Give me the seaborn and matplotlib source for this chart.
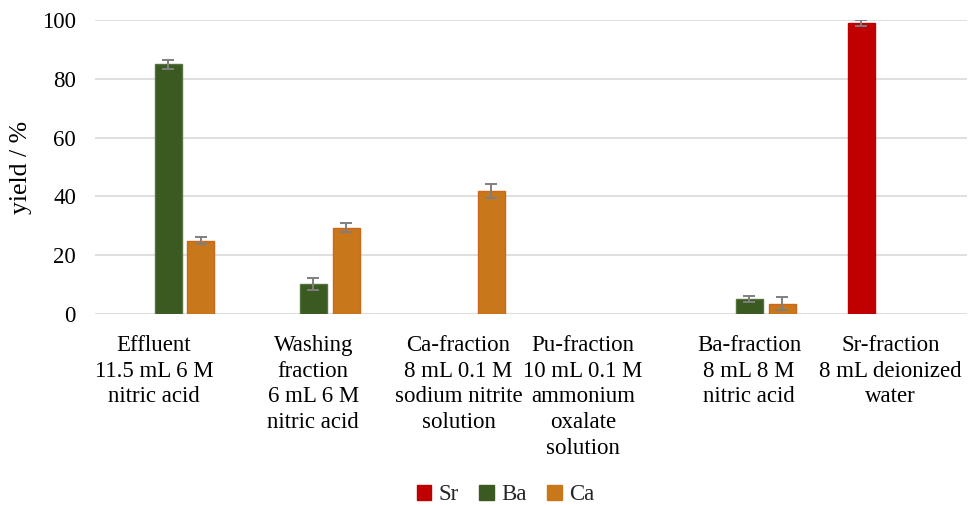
import matplotlib
matplotlib.use("Agg")
import matplotlib.pyplot as plt
import matplotlib.transforms as mtransforms
from matplotlib.patches import Patch
import seaborn as sns
import pandas as pd

# ---- data ----
categories = [
    "Effluent\n11.5 mL 6 M\nnitric acid",
    "Washing\nfraction\n6 mL 6 M\nnitric acid",
    "Ca-fraction\n8 mL 0.1 M\nsodium nitrite\nsolution",
    "Pu-fraction\n10 mL 0.1 M\nammonium\noxalate\nsolution",
    "Ba-fraction\n8 mL 8 M\nnitric acid",
    "Sr-fraction\n8 mL deionized\nwater",
]
elements = ["Sr", "Ba", "Ca"]
sr_yield = [None, None, None, None, None, 99.1]
sr_err = [None, None, None, None, None, 1.0]
ba_yield = [85.0, 10.2, None, None, 5.1, None]
ba_err = [1.5, 1.9, None, None, 1.1, None]
ca_yield = [25.0, 29.4, 41.9, None, 3.5, None]
ca_err = [1.3, 1.5, 2.4, None, 2.3, None]

colors = {"Sr": "#C00000", "Ba": "#3A5A22", "Ca": "#C8781A"}
edges = {"Sr": "#C00000", "Ba": "#56733F", "Ca": "#D0661C"}

rows = []
for el, vals, errs in (("Sr", sr_yield, sr_err), ("Ba", ba_yield, ba_err), ("Ca", ca_yield, ca_err)):
    for cat, v, e in zip(categories, vals, errs):
        if v is not None:
            rows.append({"fraction": cat, "element": el, "yield": v, "err": e})
df = pd.DataFrame(rows)

sns.set_theme(style="white")
plt.rcParams["font.family"] = ["Liberation Serif", "DejaVu Serif"]

FS = 16.5

fig = plt.figure(figsize=(9.68, 5.05), dpi=100)
ax = fig.add_axes([95.4 / 968, 191 / 505, (967 - 95.4) / 968, 294 / 505])

sns.barplot(data=df, x="fraction", y="yield", hue="element", order=categories,
            hue_order=elements, palette=colors, width=0.68, gap=0.18,
            errorbar=None, legend=False, ax=ax, saturation=1)

# edge colours and error bars from the drawn bars
err_lookup = {(r["element"], r["fraction"]): r["err"] for _, r in df.iterrows()}
for el, cont in zip(elements, ax.containers):
    for bar in cont:
        if bar.get_height() == 0 or pd.isna(bar.get_height()):
            continue
        bar.set_edgecolor(edges[el])
        bar.set_linewidth(1.0)
        xc = bar.get_x() + bar.get_width() / 2
        cat = categories[int(round(xc))]
        e = err_lookup.get((el, cat))
        if e is not None:
            ax.errorbar(xc, bar.get_height(), yerr=e, fmt="none",
                        ecolor="#7F7F7F", elinewidth=1.4, capsize=4.5, capthick=1.4, zorder=5)

ax.set_ylim(0, 100)
ax.set_xlim(-0.5, len(categories) - 0.5)
ax.set_yticks([0, 20, 40, 60, 80, 100])
ax.yaxis.grid(True, color="#D9D9D9", linewidth=1.2)
ax.set_axisbelow(True)
for s in ax.spines.values():
    s.set_visible(False)
ax.tick_params(axis="both", length=0, labelsize=FS, colors="#000000")
ax.tick_params(axis="x", pad=15)
ax.tick_params(axis="y", pad=14)
ax.set_xlabel("")
ax.set_ylabel("yield / %", labelpad=7)
ax.yaxis.label.set_fontsize(18.5)
ax.yaxis.label.set_color("#000000")

# label offsets (pixels) to follow the reference's text placement
offsets_px = [-14, 0, 0, -21, 0, -4]
for lab, dx in zip(ax.get_xticklabels(), offsets_px):
    lab.set_linespacing(1.3)
    lab.set_transform(lab.get_transform() + mtransforms.ScaledTranslation(dx / 100, 0, fig.dpi_scale_trans))

handles = [Patch(facecolor=colors[e], edgecolor=colors[e], label=e) for e in elements]
fig.legend(handles=handles, loc="center", bbox_to_anchor=(0.522, 0.02), ncol=3,
           frameon=False, fontsize=FS, handlelength=0.65, handleheight=0.65,
           handletextpad=0.3, columnspacing=0.9)

fig.savefig("out.png", dpi=100, facecolor="white")
